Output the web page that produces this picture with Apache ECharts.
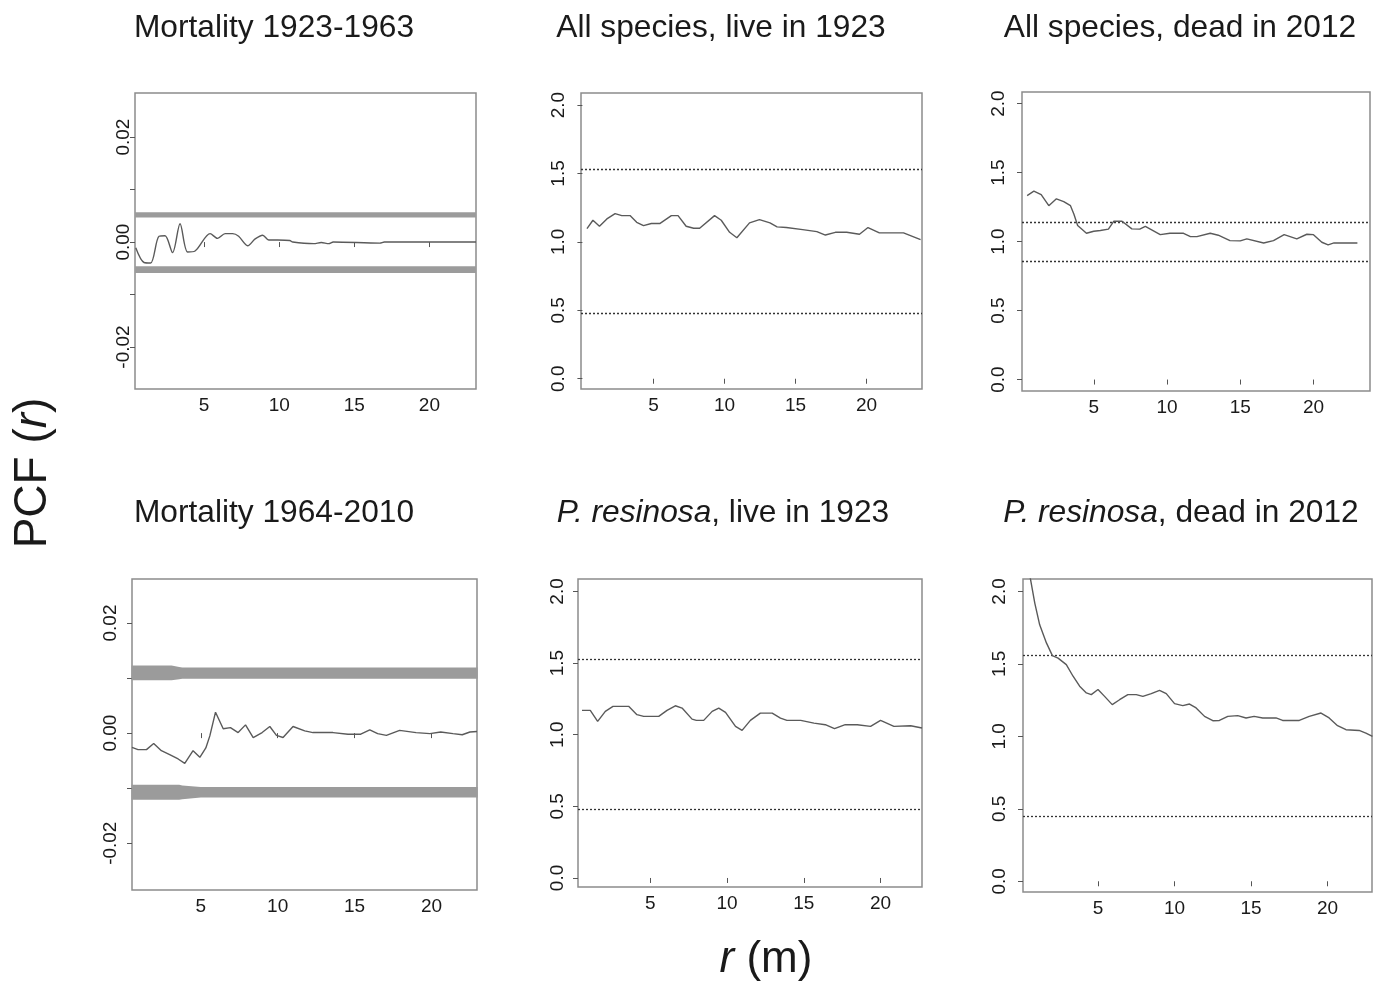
<!DOCTYPE html>
<html>
<head>
<meta charset="utf-8">
<script src="https://cdn.jsdelivr.net/npm/echarts@6/dist/echarts.min.js"></script>
<style>
html,body{margin:0;padding:0;background:#fff;}
#chart{width:1375px;height:988px;}
</style>
</head>
<body>
<div id="chart"></div>
<script>
// ---------- data ----------
const titles = [
  'Mortality 1923-1963',
  'All species, live in 1923',
  'All species, dead in 2012',
  'Mortality 1964-2010',
  '{i|P. resinosa}, live in 1923',
  '{i|P. resinosa}, dead in 2012'
];
const xTicks = [5, 10, 15, 20];
const yTicksMort = [-0.02, -0.01, 0, 0.01, 0.02];
const yLabelsMort = [-0.02, 0, 0.02];
const yTicksPcf = [0, 0.5, 1, 1.5, 2];

// Panel 1: Mortality 1923-1963
const r1 = [0.45, 1.0, 1.44, 2.0, 2.4, 2.9, 3.4, 3.9, 4.4, 5.4, 5.9, 6.4, 6.9, 7.3, 7.9, 8.4, 8.9, 9.3, 9.9, 10.7, 10.9, 12.3, 12.8, 13.3, 13.6, 16.7, 17.0, 23.1];
const pcf1 = [-0.0011, -0.0039, -0.004, 0.0011, 0.0012, -0.002, 0.0035, -0.0019, -0.0017, 0.0016, 0.0007, 0.0016, 0.0016, 0.0011, -0.0007, 0.0006, 0.0013, 0.0004, 0.0004, 0.0003, 0, -0.0003, -0.0001, -0.0003, 0, -0.0002, 0, 0];
const bandR1 = [0.4, 23.1];
const upLo1 = [0.0047, 0.0047];
const upHi1 = [0.0057, 0.0057];
const lowLo1 = [-0.0059, -0.0059];
const lowHi1 = [-0.0046, -0.0046];

// Panel 2: All species, live in 1923
const r2 = [0.32, 0.74, 1.2, 1.72, 2.3, 2.77, 3.35, 3.82, 4.3, 4.85, 5.44, 6.26, 6.73, 7.3, 7.83, 8.25, 9.3, 9.77, 10.36, 10.87, 11.76, 12.46, 13.2, 13.7, 14.35, 15.5, 16.5, 17.1, 17.8, 18.6, 19.5, 20.1, 20.9, 22.6, 23.8];
const pcf2 = [1.097, 1.158, 1.114, 1.168, 1.207, 1.192, 1.192, 1.143, 1.119, 1.134, 1.134, 1.192, 1.192, 1.114, 1.10, 1.10, 1.192, 1.158, 1.07, 1.03, 1.139, 1.163, 1.139, 1.11, 1.105, 1.09, 1.075, 1.05, 1.07, 1.07, 1.056, 1.105, 1.066, 1.066, 1.017];
const env2 = [0.476, 1.531];

// Panel 3: All species, dead in 2012
const r3 = [0.45, 0.91, 1.41, 1.93, 2.45, 2.95, 3.41, 3.64, 3.9, 4.5, 5.0, 5.45, 6.0, 6.36, 6.93, 7.6, 8.14, 8.52, 9.54, 10.2, 11.13, 11.6, 12.04, 12.95, 13.5, 14.3, 15.0, 15.45, 16.6, 17.27, 18.0, 18.86, 19.55, 20.0, 20.57, 21.0, 21.4, 23.0];
const pcf3 = [1.333, 1.365, 1.34, 1.26, 1.31, 1.29, 1.26, 1.20, 1.116, 1.06, 1.075, 1.08, 1.09, 1.147, 1.147, 1.092, 1.09, 1.11, 1.05, 1.06, 1.06, 1.036, 1.036, 1.06, 1.046, 1.007, 1.005, 1.02, 0.99, 1.007, 1.05, 1.02, 1.053, 1.05, 0.995, 0.976, 0.99, 0.99];
const env3 = [0.86, 1.14];

// Panel 4: Mortality 1964-2010
const r4 = [0.53, 0.92, 1.47, 1.94, 2.44, 2.98, 3.53, 3.96, 4.5, 4.94, 5.33, 5.59, 5.96, 6.46, 6.93, 7.43, 7.91, 8.41, 8.99, 9.49, 9.92, 10.35, 11.0, 11.76, 12.3, 13.6, 14.57, 15.4, 15.99, 16.5, 17.07, 17.93, 19.0, 19.9, 20.6, 21.4, 22.0, 22.5, 22.96];
const pcf4 = [-0.0026, -0.003, -0.003, -0.0019, -0.0032, -0.0039, -0.0047, -0.0055, -0.0032, -0.0044, -0.0027, -0.0005, 0.0038, 0.0008, 0.001, 0.0001, 0.0015, -0.0008, 0.0001, 0.0012, -0.0004, -0.0008, 0.0012, 0.0004, 0.0001, 0.0001, -0.0002, -0.0002, 0.0006, -0.0001, -0.0004, 0.0005, 0.0001, -0.0001, 0.0002, -0.0001, -0.0003, 0.0002, 0.0003];
const bandR4 = [0.5, 3.1, 3.6, 3.8, 5.0, 23.0];
const upLo4 = [0.0096, 0.0096, 0.0098, 0.0099, 0.0099, 0.0099];
const upHi4 = [0.0123, 0.0123, 0.0120, 0.0119, 0.0119, 0.0119];
const lowLo4 = [-0.0121, -0.0121, -0.0121, -0.0120, -0.0117, -0.0117];
const lowHi4 = [-0.0094, -0.0094, -0.0094, -0.0095, -0.0098, -0.0098];

// Panel 5: P. resinosa, live in 1923
const r5 = [0.55, 1.09, 1.57, 2.07, 2.57, 3.59, 4.13, 4.57, 5.55, 6.09, 6.63, 7.07, 7.72, 8.0, 8.48, 9.03, 9.46, 9.9, 10.55, 10.98, 11.52, 12.17, 12.94, 13.48, 13.9, 14.8, 15.66, 16.4, 17.0, 17.7, 18.48, 19.35, 20.0, 20.87, 21.96, 22.7];
const pcf5 = [1.17, 1.17, 1.093, 1.163, 1.198, 1.198, 1.14, 1.128, 1.128, 1.17, 1.202, 1.186, 1.109, 1.10, 1.10, 1.163, 1.186, 1.156, 1.058, 1.03, 1.10, 1.151, 1.151, 1.116, 1.10, 1.10, 1.081, 1.07, 1.042, 1.07, 1.07, 1.058, 1.10, 1.058, 1.063, 1.047];
const env5 = [0.477, 1.53];

// Panel 6: P. resinosa, dead in 2012
const r6 = [0.4, 0.58, 0.87, 1.19, 1.63, 2.02, 2.39, 2.93, 3.37, 3.8, 4.24, 4.56, 5.0, 5.43, 5.93, 6.41, 6.95, 7.5, 7.93, 8.48, 9.02, 9.46, 10.0, 10.54, 10.98, 11.41, 11.96, 12.5, 12.93, 13.48, 14.13, 14.67, 15.2, 15.76, 16.63, 17.06, 18.15, 18.8, 19.57, 20.1, 20.65, 21.2, 22.06, 22.5, 22.93];
const pcf6 = [2.25, 2.09, 1.92, 1.77, 1.645, 1.557, 1.54, 1.495, 1.415, 1.346, 1.30, 1.288, 1.323, 1.276, 1.219, 1.253, 1.288, 1.288, 1.276, 1.295, 1.318, 1.295, 1.226, 1.212, 1.223, 1.196, 1.138, 1.108, 1.11, 1.138, 1.143, 1.127, 1.138, 1.127, 1.127, 1.11, 1.11, 1.138, 1.161, 1.127, 1.074, 1.046, 1.041, 1.023, 1.0];
const env6 = [0.447, 1.56];

// ---------- layout ----------
const FONT = '"Liberation Sans", Arial, Helvetica, sans-serif';
const grids = [
  {left: 135, top: 93, width: 341, height: 296},
  {left: 581, top: 93, width: 341, height: 296},
  {left: 1022, top: 92, width: 348, height: 299},
  {left: 132, top: 579, width: 345, height: 311},
  {left: 578, top: 579, width: 344, height: 308},
  {left: 1023, top: 579, width: 349, height: 313}
];
const xRanges = [[0.4, 23.1], [-0.1, 23.9], [0.1, 23.86], [0.53, 22.96], [0.29, 22.7], [0.1, 22.9]];
const yRanges = [[-0.028, 0.0284], [-0.075, 2.088], [-0.083, 2.084], [-0.0285, 0.028], [-0.063, 2.087], [-0.074, 2.086]];
const yMargins = [2, 13, 14, 12, 11, 14];
const smoothness = [0.3, 0, 0, 0, 0, 0];
const titlePos = [[274, 28], [721, 28], [1180, 28], [274, 513], [723, 513], [1181, 513]];

const zip = (a, b) => a.map((v, i) => [v, b[i]]);

const gridOpt = grids.map(g => Object.assign({show: true, borderColor: '#8c8c8c', borderWidth: 1.5, backgroundColor: 'transparent'}, g));

const xAxes = xRanges.map((rg, i) => ({
  type: 'value', gridIndex: i, min: rg[0], max: rg[1],
  axisLine: {show: false},
  splitLine: {show: false},
  axisTick: {show: true, length: 5, customValues: xTicks, lineStyle: {color: '#555', width: 1}},
  axisLabel: {customValues: xTicks, fontSize: 19, color: '#1a1a1a', fontFamily: FONT, margin: 7}
}));

const yAxes = yRanges.map((rg, i) => {
  const mort = (i === 0 || i === 3);
  return {
    type: 'value', gridIndex: i, min: rg[0], max: rg[1],
    axisLine: {show: false},
    splitLine: {show: false},
    axisTick: {show: true, length: 5, customValues: mort ? yTicksMort : yTicksPcf, lineStyle: {color: '#555', width: 1}},
    axisLabel: {
      customValues: mort ? yLabelsMort : yTicksPcf,
      rotate: 90, fontSize: 19, color: '#1a1a1a', fontFamily: FONT, margin: yMargins[i],
      formatter: v => mort ? Number(v).toFixed(2) : Number(v).toFixed(1)
    }
  };
});

const series = [];
function dataLine(i, xs, ys) {
  series.push({
    type: 'line', xAxisIndex: i, yAxisIndex: i, data: zip(xs, ys),
    symbol: 'none', clip: true, silent: true, z: 5, smooth: smoothness[i],
    lineStyle: {color: '#5a5a5a', width: 1.4}
  });
}
// grey envelope band drawn as a polygon through the axis scales
function band(i, xs, lo, hi) {
  series.push({
    type: 'custom', xAxisIndex: i, yAxisIndex: i, silent: true, z: 2,
    data: [[xs[0], lo[0]]],
    renderItem: function (params, api) {
      const pts = [];
      for (let k = 0; k < xs.length; k++) pts.push(api.coord([xs[k], hi[k]]));
      for (let k = xs.length - 1; k >= 0; k--) pts.push(api.coord([xs[k], lo[k]]));
      return {type: 'polygon', shape: {points: pts}, style: {fill: '#9b9b9b', stroke: null}};
    }
  });
}
function envelope(i, env) {
  series.push({
    type: 'line', xAxisIndex: i, yAxisIndex: i, data: [], silent: true,
    markLine: {
      silent: true, symbol: 'none', animation: false,
      label: {show: false},
      lineStyle: {color: '#333', type: [2, 2], width: 1.3},
      data: env.map(v => ({yAxis: v}))
    }
  });
}

band(0, bandR1, upLo1, upHi1);
band(0, bandR1, lowLo1, lowHi1);
dataLine(0, r1, pcf1);
dataLine(1, r2, pcf2); envelope(1, env2);
dataLine(2, r3, pcf3); envelope(2, env3);
band(3, bandR4, upLo4, upHi4);
band(3, bandR4, lowLo4, lowHi4);
dataLine(3, r4, pcf4);
dataLine(4, r5, pcf5); envelope(4, env5);
dataLine(5, r6, pcf6); envelope(5, env6);

const TF = 31.7;
const italicRich = {i: {fontStyle: 'italic', fontSize: TF, fontFamily: FONT, fill: '#1a1a1a'}};
const graphics = titles.map((t, i) => ({
  type: 'text', x: titlePos[i][0], y: titlePos[i][1], silent: true,
  style: {
    text: t, fill: '#1a1a1a', fontSize: TF, fontFamily: FONT,
    align: 'center', verticalAlign: 'middle', textAlign: 'center', textVerticalAlign: 'middle',
    rich: italicRich
  }
}));
graphics.push({
  type: 'text', x: 33, y: 473, rotation: Math.PI / 2, silent: true,
  style: {
    text: 'PCF ({i|r})', fill: '#1a1a1a', fontSize: 46, fontFamily: FONT,
    align: 'center', verticalAlign: 'middle', textAlign: 'center', textVerticalAlign: 'middle',
    rich: {i: {fontStyle: 'italic', fontSize: 46, fontFamily: FONT, fill: '#1a1a1a'}}
  }
});
graphics.push({
  type: 'text', x: 766, y: 960, silent: true,
  style: {
    text: '{i|r} (m)', fill: '#1a1a1a', fontSize: 44, fontFamily: FONT,
    align: 'center', verticalAlign: 'middle', textAlign: 'center', textVerticalAlign: 'middle',
    rich: {i: {fontStyle: 'italic', fontSize: 44, fontFamily: FONT, fill: '#1a1a1a'}}
  }
});

const chart = echarts.init(document.getElementById('chart'), null, {renderer: 'canvas'});
chart.setOption({
  animation: false,
  backgroundColor: '#fff',
  grid: gridOpt,
  xAxis: xAxes,
  yAxis: yAxes,
  series: series,
  graphic: graphics
});
</script>
</body>
</html>
